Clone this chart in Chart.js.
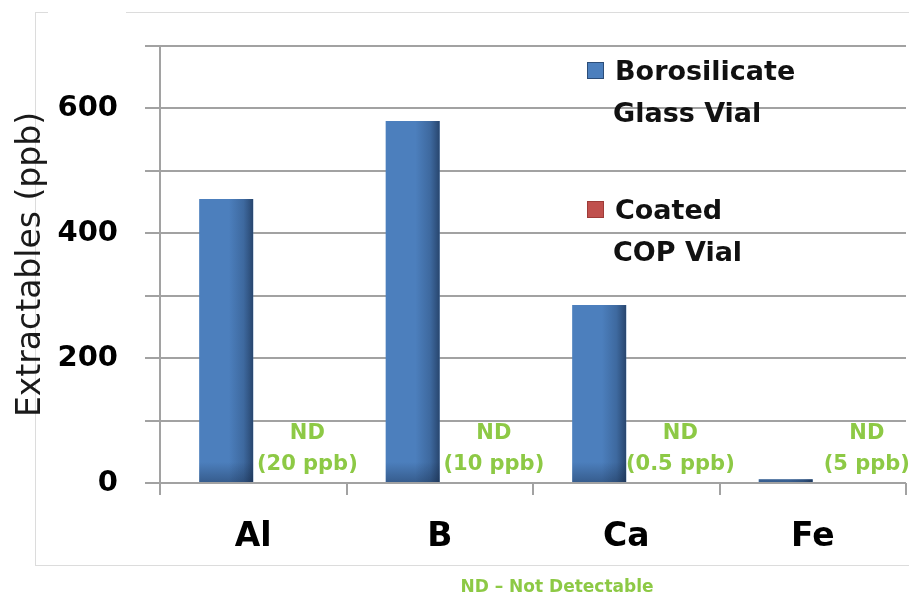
<!DOCTYPE html>
<html>
<head>
<meta charset="utf-8">
<script src="https://cdn.jsdelivr.net/npm/chart.js@4.4.1/dist/chart.umd.min.js"></script>
<style>
  html, body { margin: 0; padding: 0; background: #fff; overflow: hidden; }
  #wrap { position: relative; width: 909px; height: 597px; }
  #frame { position: absolute; left: 35px; top: 12px; width: 900px; height: 554px;
           border: 1px solid #dcdcdc; box-sizing: border-box; }
  #gap { position: absolute; left: 48px; top: 10px; width: 78px; height: 5px; background: #fff; }
  canvas { position: absolute; left: 0; top: 0; }
</style>
</head>
<body>
<div id="wrap">
  <div id="frame"></div>
  <div id="gap"></div>
  <canvas id="chart" width="909" height="597"></canvas>
</div>
<script>
// Extractable metals per vial type (ppb)
const elements = ['Al', 'B', 'Ca', 'Fe'];
const borosilicateGlass = [455, 580, 285, 6];
const coatedCOP = [0, 0, 0, 0];               // not detectable
const detectionLimits = ['20 ppb', '10 ppb', '0.5 ppb', '5 ppb'];
const seriesNames = [['Borosilicate', 'Glass Vial'], ['Coated', 'COP Vial']];
const labelledTicks = [0, 200, 400, 600];

const BLUE = '#4c7fbd';
const RED = '#c0504d';
const GREEN = '#8dc945';
const GRID = '#a2a2a2';

// Darkened right edge and foot on each glass-vial bar
const barShade = {
  id: 'barShade',
  afterDatasetsDraw(chart) {
    const ctx = chart.ctx;
    chart.getDatasetMeta(0).data.forEach(bar => {
      const left = bar.x - bar.width / 2, right = bar.x + bar.width / 2;
      const top = Math.min(bar.y, bar.base), bottom = Math.max(bar.y, bar.base);
      ctx.save();
      ctx.beginPath();
      ctx.rect(left, top, right - left, bottom - top);
      ctx.clip();
      const gh = ctx.createLinearGradient(left, 0, right, 0);
      gh.addColorStop(0, 'rgba(20,40,70,0)');
      gh.addColorStop(0.55, 'rgba(20,40,70,0)');
      gh.addColorStop(0.82, 'rgba(20,40,70,0.25)');
      gh.addColorStop(1, 'rgba(15,30,55,0.6)');
      ctx.fillStyle = gh;
      ctx.fillRect(left, top, right - left, bottom - top);
      const gv = ctx.createLinearGradient(0, bottom - 20, 0, bottom);
      gv.addColorStop(0, 'rgba(15,30,55,0)');
      gv.addColorStop(1, 'rgba(15,30,55,0.35)');
      ctx.fillStyle = gv;
      ctx.fillRect(left, bottom - 20, right - left, 20);
      ctx.restore();
    });
  }
};

// "ND (limit)" notes where the coated-vial bars sit
const ndLabels = {
  id: 'ndLabels',
  afterDatasetsDraw(chart) {
    const ctx = chart.ctx;
    const base = chart.scales.y.getPixelForValue(0);
    ctx.save();
    ctx.fillStyle = GREEN;
    ctx.font = 'bold 21px "DejaVu Sans"';
    ctx.textAlign = 'center';
    ctx.textBaseline = 'middle';
    chart.getDatasetMeta(1).data.forEach((bar, i) => {
      const cx = bar.x + bar.width / 2;
      ctx.fillText('ND', cx, base - 49);
      ctx.fillText('(' + detectionLimits[i] + ')', cx, base - 18);
    });
    ctx.restore();
  }
};

// Two-line legend inside the plot, plus the footnote
const sideLegend = {
  id: 'sideLegend',
  afterDraw(chart) {
    const ctx = chart.ctx;
    const colors = [BLUE, RED];
    const rows = [62, 201];
    ctx.save();
    ctx.font = 'bold 27px "DejaVu Sans"';
    ctx.textAlign = 'left';
    ctx.textBaseline = 'alphabetic';
    seriesNames.forEach((lines, k) => {
      const y0 = rows[k];
      ctx.fillStyle = colors[k];
      ctx.fillRect(587, y0, 17, 17);
      ctx.strokeStyle = k === 0 ? '#2c4d78' : '#9e3b38';
      ctx.lineWidth = 1;
      ctx.strokeRect(587.5, y0 + 0.5, 16, 16);
      ctx.fillStyle = '#111';
      ctx.fillText(lines[0], 615, y0 + 18);
      ctx.fillText(lines[1], 613, y0 + 60);
    });
    ctx.fillStyle = GREEN;
    ctx.font = 'bold 17px "DejaVu Sans"';
    ctx.textAlign = 'center';
    ctx.textBaseline = 'middle';
    ctx.fillText('ND \u2013 Not Detectable', 557, 588);
    ctx.restore();
  }
};

new Chart(document.getElementById('chart'), {
  type: 'bar',
  data: {
    labels: elements,
    datasets: [
      { label: seriesNames[0].join(' '), data: borosilicateGlass, backgroundColor: BLUE },
      { label: seriesNames[1].join(' '), data: coatedCOP, backgroundColor: RED }
    ]
  },
  options: {
    responsive: false,
    animation: false,
    devicePixelRatio: 1,
    layout: { padding: { left: 0, top: 46, right: 3, bottom: 0 } },
    datasets: { bar: { categoryPercentage: 0.58, barPercentage: 1, borderWidth: 0 } },
    plugins: { legend: { display: false }, tooltip: { enabled: false } },
    scales: {
      x: {
        offset: true,
        afterFit(scale) { scale.height = 114; },
        grid: { display: true, drawOnChartArea: false, drawTicks: true, tickLength: 12,
                color: GRID, lineWidth: 2, offset: true },
        border: { display: false },
        ticks: { color: '#000', padding: 23, font: { family: 'DejaVu Sans', size: 33, weight: 'bold' } }
      },
      y: {
        min: 0,
        max: 700,
        afterFit(scale) { scale.width = 160; },
        grid: { color: GRID, lineWidth: 2, tickLength: 15, drawTicks: true },
        border: { display: true, color: GRID, width: 2 },
        ticks: {
          stepSize: 100,
          padding: 27,
          color: '#000',
          font: { family: 'DejaVu Sans', size: 29, weight: 'bold' },
          callback: v => labelledTicks.includes(v) ? String(v) : ''
        },
        title: {
          display: true,
          text: 'Extractables (ppb)',
          color: '#1a1a1a',
          padding: { top: 12, bottom: 0 },
          font: { family: 'DejaVu Sans', size: 33, weight: 'normal' }
        }
      }
    }
  },
  plugins: [barShade, ndLabels, sideLegend]
});
</script>
</body>
</html>
